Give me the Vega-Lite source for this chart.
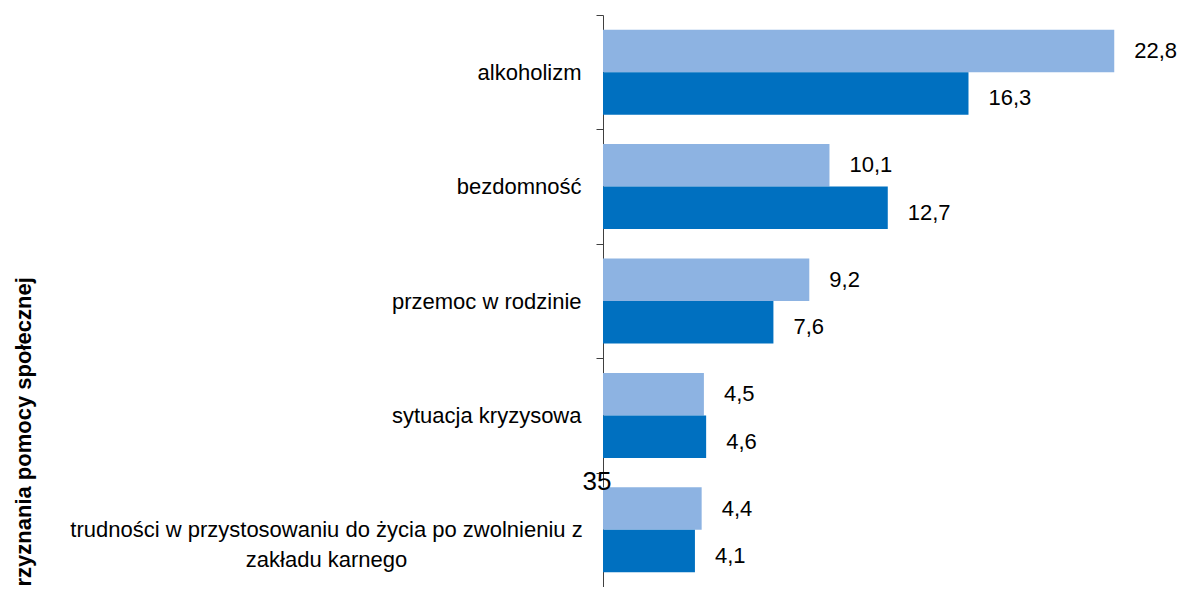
{
  "$schema": "https://vega.github.io/schema/vega-lite/v6.json",
  "autosize": {"type": "none"},
  "padding": {"left": 603, "top": 15, "right": 0, "bottom": 0},
  "width": 583,
  "height": 572,
  "background": "white",
  "config": {
    "view": {"stroke": null},
    "font": "Liberation Sans",
    "locale": {"number": {"decimal": ",", "thousands": " ", "grouping": [3], "currency": ["", " zł"]}}
  },
  "datasets": {
    "dane": [
      {"kategoria": "alkoholizm", "seria": "seria 1", "wartosc": 22.8},
      {"kategoria": "alkoholizm", "seria": "seria 2", "wartosc": 16.3},
      {"kategoria": "bezdomność", "seria": "seria 1", "wartosc": 10.1},
      {"kategoria": "bezdomność", "seria": "seria 2", "wartosc": 12.7},
      {"kategoria": "przemoc w rodzinie", "seria": "seria 1", "wartosc": 9.2},
      {"kategoria": "przemoc w rodzinie", "seria": "seria 2", "wartosc": 7.6},
      {"kategoria": "sytuacja kryzysowa", "seria": "seria 1", "wartosc": 4.5},
      {"kategoria": "sytuacja kryzysowa", "seria": "seria 2", "wartosc": 4.6},
      {"kategoria": "trudności w przystosowaniu do życia po zwolnieniu z zakładu karnego", "seria": "seria 1", "wartosc": 4.4},
      {"kategoria": "trudności w przystosowaniu do życia po zwolnieniu z zakładu karnego", "seria": "seria 2", "wartosc": 4.1}
    ],
    "strona": [
      {"kategoria": "trudności w przystosowaniu do życia po zwolnieniu z zakładu karnego", "wartosc": -0.27, "tekst": "35"}
    ]
  },
  "encoding": {
    "y": {
      "field": "kategoria",
      "type": "nominal",
      "sort": null,
      "scale": {
        "domain": ["alkoholizm", "bezdomność", "przemoc w rodzinie", "sytuacja kryzysowa", "trudności w przystosowaniu do życia po zwolnieniu z zakładu karnego"],
        "paddingInner": 0,
        "paddingOuter": 0
      },
      "axis": {
        "title": "rzyznania pomocy społecznej",
        "titleFont": "Liberation Sans",
        "titleFontSize": 22,
        "titleFontWeight": "bold",
        "titleColor": "black",
        "titleAngle": 270,
        "titleAlign": "left",
        "titleBaseline": "alphabetic",
        "titleX": -573,
        "titleY": 571,
        "labelFont": "Liberation Sans",
        "labelFontSize": 22,
        "labelColor": "black",
        "labelLimit": 700,
        "labelOverlap": false,
        "labelExpr": "datum.label == 'trudności w przystosowaniu do życia po zwolnieniu z zakładu karnego' ? ['trudności w przystosowaniu do życia po zwolnieniu z', 'zakładu karnego'] : datum.label",
        "labelAlign": {"condition": {"test": "datum.value == 'trudności w przystosowaniu do życia po zwolnieniu z zakładu karnego'", "value": "center"}, "value": "right"},
        "labelPadding": {"condition": {"test": "datum.value == 'trudności w przystosowaniu do życia po zwolnieniu z zakładu karnego'", "value": 270}, "value": 15},
        "labelLineHeight": 30,
        "labelBaseline": "middle",
        "tickBand": "extent",
        "tickSize": 7,
        "tickColor": "#404040",
        "domainColor": "#404040",
        "grid": false
      }
    }
  },
  "layer": [
    {
      "data": {"name": "dane"},
      "mark": {"type": "bar"},
      "encoding": {
        "yOffset": {"field": "seria", "type": "nominal", "sort": null, "scale": {"paddingInner": 0, "paddingOuter": 0.346}},
        "x": {"field": "wartosc", "type": "quantitative", "scale": {"domain": [0, 26]}, "axis": null},
        "color": {"field": "seria", "type": "nominal", "scale": {"domain": ["seria 1", "seria 2"], "range": ["#8DB3E2", "#0070C0"]}, "legend": null}
      }
    },
    {
      "data": {"name": "dane"},
      "transform": [{"filter": "datum.seria == 'seria 1'"}],
      "mark": {"type": "text", "align": "left", "baseline": "middle", "dx": 20, "fontSize": 22, "color": "black"},
      "encoding": {
        "yOffset": {"field": "seria", "type": "nominal", "sort": null},
        "x": {"field": "wartosc", "type": "quantitative"},
        "text": {"field": "wartosc", "type": "quantitative", "format": ".1f"}
      }
    },
    {
      "data": {"name": "dane"},
      "transform": [{"filter": "datum.seria == 'seria 2'"}],
      "mark": {"type": "text", "align": "left", "baseline": "middle", "dx": 20, "dy": 5, "fontSize": 22, "color": "black"},
      "encoding": {
        "yOffset": {"field": "seria", "type": "nominal", "sort": null},
        "x": {"field": "wartosc", "type": "quantitative"},
        "text": {"field": "wartosc", "type": "quantitative", "format": ".1f"}
      }
    },
    {
      "data": {"name": "strona"},
      "mark": {"type": "text", "align": "center", "baseline": "alphabetic", "dy": 17, "fontSize": 26, "color": "black"},
      "encoding": {
        "y": {"field": "kategoria", "type": "nominal", "bandPosition": 0},
        "x": {"field": "wartosc", "type": "quantitative"},
        "text": {"field": "tekst", "type": "nominal"}
      }
    }
  ]
}
